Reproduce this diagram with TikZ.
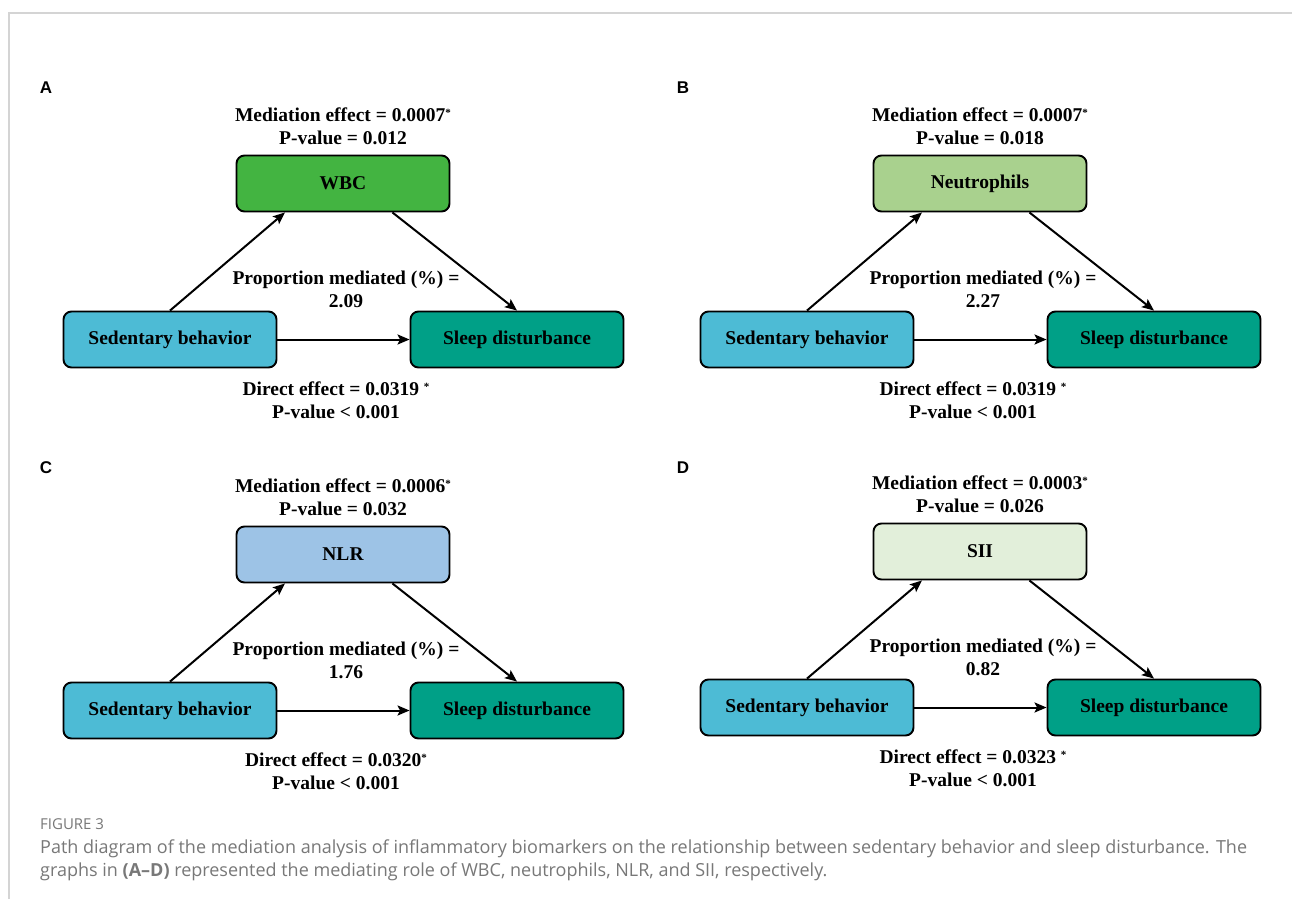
\documentclass[tikz,border=0pt]{standalone}
\usepackage{fontspec}
\setmainfont{Liberation Serif}
\newfontfamily\panelfont{Liberation Sans}
\newfontfamily\capfont{Open Sans}
\usetikzlibrary{arrows.meta,calc}

\definecolor{wbcgreen}{HTML}{43B441}
\definecolor{neugreen}{HTML}{A9D18E}
\definecolor{nlrblue}{HTML}{9DC3E6}
\definecolor{siigreen}{HTML}{E2EFDA}
\definecolor{sedblue}{HTML}{4DBBD5}
\definecolor{sleepteal}{HTML}{00A087}
\definecolor{capgray}{HTML}{787878}

% small raised star after the values
\newcommand{\sigstar}{\raisebox{4.5pt}{\fontsize{11}{11}\selectfont *}}

\tikzset{
	box/.style={draw, line width=1.9pt, rounded corners=8pt, minimum width=213pt, minimum height=56pt,
		inner sep=0pt, font=\bfseries\fontsize{19.5}{23}\selectfont},
	lbl/.style={align=center, inner sep=0pt, font=\bfseries\fontsize{19.5}{23}\selectfont},
	link/.style={line width=2pt, -{Stealth[length=12pt,width=10pt,inset=2.5pt]}},
	panel/.style={font=\panelfont\bfseries\fontsize{17}{20}\selectfont, inner sep=0pt}
}

\begin{document}
\begin{tikzpicture}[x=1pt, y=-1pt]
		% Page and frame
		\useasboundingbox (0,0) rectangle (1292,899);
		\fill[white] (0,0) rectangle (1292,899);
		\draw[line width=1.5pt, black!17] (9,899) -- (9,13) -- (1292,13);
		
		% Panels A--D
		\foreach \p/\dx/\dy/\ly/\med/\col/\eff/\pv/\prop/\dir in {
			A/0/0/88/WBC/wbcgreen/0.0007/0.012/2.09/{0.0319 \sigstar},
			B/637/0/88/Neutrophils/neugreen/0.0007/0.018/2.27/{0.0319 \sigstar},
			C/0/371/97/NLR/nlrblue/0.0006/0.032/1.76/{0.0320\sigstar},
			D/637/368/100/SII/siigreen/0.0003/0.026/0.82/{0.0323 \sigstar}}
		{
			\begin{scope}[shift={(\dx,\dy)}]
				\node[panel] (lab\p) at (46,\ly) {\p};
				
				% Boxes
				\node[box, fill=\col] (med\p) at (343,183.5) {\med};
				\node[box, fill=sedblue] (sed\p) at (170,339.5) {Sedentary behavior};
				\node[box, fill=sleepteal] (sleep\p) at (517,339.5) {Sleep disturbance};
				
				% Paths
				\draw[link] (sed\p.north) -- ($(med\p.south west)!0.23!(med\p.south east)$);
				\draw[link] ($(med\p.south west)!0.73!(med\p.south east)$) -- (sleep\p.north);
				\draw[link] (sed\p.east) -- (sleep\p.west);
				
				% Effects
				\node[lbl] (eff\p) at (343,126) {Mediation effect = \eff\sigstar\\P-value = \pv};
				\node[lbl] (prop\p) at (346,289) {Proportion mediated (\%) =\\\prop};
				\node[lbl] (dir\p) at (336,400) {Direct effect = \dir\\P-value < 0.001};
			\end{scope}
		}
		
		% Caption
		\node[anchor=west, inner sep=0pt, text=capgray, font=\capfont\fontsize{15}{18}\selectfont] (figno) at (40,824) {FIGURE 3};
		\node[anchor=north west, inner sep=0pt, align=left, text=capgray, font=\capfont\fontsize{18}{23.5}\selectfont] (caption) at (40,839.5)
		{Path diagram of the mediation analysis of inflammatory biomarkers on the relationship between sedentary behavior and sleep disturbance. The\\
			graphs in \textbf{(A–D)} represented the mediating role of WBC, neutrophils, NLR, and SII, respectively.};
\end{tikzpicture}
\end{document}
